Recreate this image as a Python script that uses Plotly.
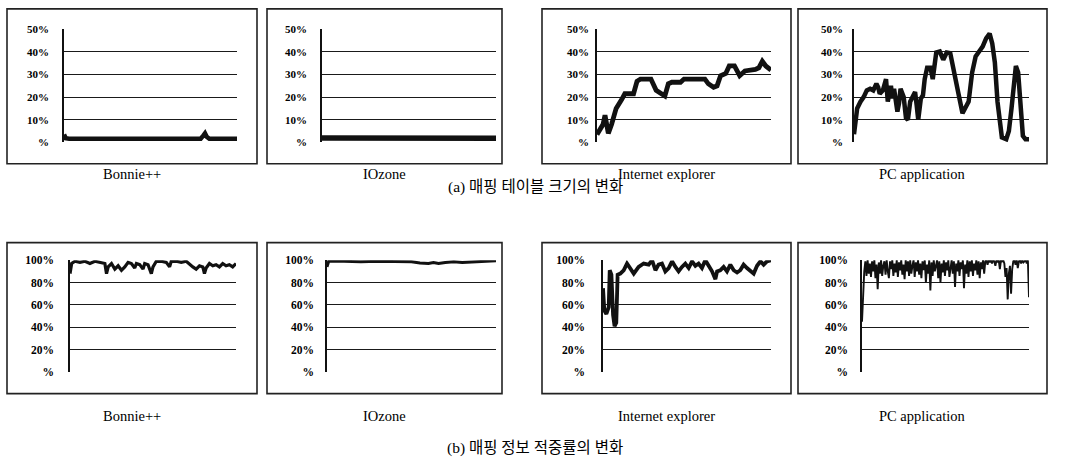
import plotly.graph_objects as go

# ---------------- data ----------------
panel_names = ["Bonnie++", "IOzone", "Internet explorer", "PC application"]
caption_a = "(a) 매핑 테이블 크기의 변화"
caption_b = "(b) 매핑 정보 적중률의 변화"

top_tickvals = [0, 10, 20, 30, 40, 50]
top_ticktext = ["%", "10%", "20%", "30%", "40%", "50%"]
bot_tickvals = [0, 20, 40, 60, 80, 100]
bot_ticktext = ["%", "20%", "40%", "60%", "80%", "100%"]

# (a) mapping table size (%), x = relative time (0-100)
bonnie_size_x = [0, 1, 3, 20, 40, 60, 79, 80.5, 81.5, 82.5, 84, 100]
bonnie_size_y = [3.5, 1.8, 1.6, 1.5, 1.6, 1.5, 1.6, 3.0, 4.0, 2.5, 1.6, 1.6]

iozone_size_x = [0, 25, 50, 75, 100]
iozone_size_y = [1.9, 2.0, 1.8, 1.7, 1.8]

ie_size_x = [0, 3.5, 4.6, 6.5, 8.4, 11, 14, 16, 21, 23, 25, 31, 34, 37, 39, 41, 43, 48,
             50, 62, 64, 67, 69, 71, 74, 76, 79, 82, 85, 91, 93, 95, 97, 100]
ie_size_y = [3.5, 8, 12, 4, 8, 15, 18.7, 21.5, 21.5, 27, 28, 28, 23, 21.5, 20.5, 25.9, 26.6, 26.6,
             28, 28, 25.9, 24.4, 25, 29.5, 30.5, 33.8, 33.8, 29.5, 31.6, 32.3, 33, 35.9, 33.8, 32]

pc_size_x = [0, 0.9, 1.8, 3.7, 5.5, 7.3, 9.2, 11.0, 12.8, 13.8, 14.7, 16.5, 18.3, 19.3, 20.2,
             21.1, 22.0, 22.9, 24.8, 25.7, 26.6, 27.5, 28.4, 29.7, 30.8, 32.1, 33.9, 34.9, 35.8,
             36.7, 38.2, 39.4, 40.4, 41.8, 43.7, 45.0, 47.0, 49.0, 51.0, 53.0, 55.0, 57.0, 59.5,
             62.0, 64.0, 65.5, 67.5, 69.5, 71.5, 73.5, 75.5, 77.5, 79.0, 80.5, 82.0, 83.0, 84.5,
             87.0, 88.5, 90.0, 91.2, 92.5, 93.8, 95.2, 96.5, 98.0, 100]
pc_size_y = [3.6, 10.8, 15, 18, 20, 23, 23.7, 23, 25.9, 24.4, 21.5, 23, 28, 18, 22.3, 25, 19.4,
             23.7, 13.6, 17.2, 23.7, 21.5, 20, 10.8, 10, 18, 20.8, 22.3, 16.5, 10, 19.4, 20.8, 28,
             33, 33, 28, 39.8, 40.2, 36.6, 39.8, 39.5, 30.9, 22.3, 12.9, 15.8, 18, 30.9, 38, 40.2,
             42.4, 46, 48.1, 43.8, 35.2, 18, 10.8, 2.2, 1.4, 5, 15, 25, 33.8, 30.9, 16.5, 2.9, 1.4, 1.4]

# (b) mapping information hit ratio (%)
bonnie_hit_x = [0, 1, 3, 6, 9, 12, 15, 18, 21, 22, 23, 25, 27, 29, 31, 33, 35, 37, 39, 40,
                42, 44, 45, 47, 49, 50, 52, 55, 58, 60, 61, 64, 67, 70, 72, 74, 76, 78, 80, 81,
                82, 84, 86, 88, 90, 92, 94, 96, 98, 100]
bonnie_hit_y = [88, 97, 99, 98, 99, 97, 99, 98, 97, 88, 94, 97, 92, 95, 91, 94, 98, 97, 93, 97,
                96, 92, 97, 96, 88, 94, 99, 99, 98, 94, 99, 99, 98, 99, 96, 94, 92, 95, 94, 88,
                93, 97, 95, 96, 94, 97, 95, 96, 94, 97]

iozone_hit_x = [0, 1, 10, 20, 30, 40, 50, 55, 60, 63, 66, 70, 75, 80, 90, 100]
iozone_hit_y = [94, 99, 99, 98.5, 99, 99, 98.5, 97.5, 97, 98, 97, 98, 98.5, 98, 99, 99.5]

ie_hit_x = [0, 0.8, 2.0, 3.4, 4.0, 5.0, 6.0, 6.9, 7.9, 8.7, 10.3, 12.3, 14.3, 16.3, 18.3, 21.2,
            24.2, 27.2, 29.2, 31.2, 33.1, 35.1, 37.1, 39.1, 41.1, 43.1, 45.0, 47.0, 49.0, 51.0,
            53.0, 55.0, 56.9, 58.9, 60.9, 62.9, 64.9, 66.9, 67.9, 69.8, 71.8, 73.8, 75.8, 77.8,
            79.8, 81.7, 83.7, 85.7, 87.7, 89.7, 91.7, 93.7, 95.6, 97.6, 100]
ie_hit_y = [75, 55, 52, 58, 91, 87, 51, 41, 44, 87, 88, 91, 97, 93, 88, 94, 97, 96, 100, 91,
            96, 97, 90, 93, 99, 94, 90, 94, 97, 93, 99, 95, 97, 93, 100, 95, 90, 83, 90, 91,
            94, 90, 96, 91, 89, 91, 96, 93, 90, 88, 95, 99, 96, 99, 100]

pc_hit_y = [45, 78, 90, 99, 86, 100, 88, 97, 85, 99,
            90, 100, 84, 96, 74, 98, 88, 100, 86, 95,
            99, 87, 100, 90, 84, 99, 92, 100, 86, 97,
            89, 100, 85, 98, 91, 100, 87, 96, 83, 100,
            90, 99, 86, 100, 88, 95, 100, 85, 98, 90,
            100, 87, 97, 84, 99, 91, 100, 80, 96, 88,
            100, 73, 98, 86, 100, 90, 95, 100, 84, 99,
            80, 97, 89, 100, 86, 98, 91, 100, 85, 96,
            100, 88, 99, 76, 97, 90, 100, 86, 98, 92,
            100, 75, 96, 88, 100, 85, 99, 90, 100, 86,
            97, 91, 100, 87, 99, 84, 98, 92, 100, 88,
            99, 100, 96, 100, 98, 100, 97, 100, 99, 95,
            100, 98, 100, 92, 100, 99, 100, 97, 85, 93,
            65, 88, 95, 70, 92, 99, 100, 96, 100, 93,
            99, 100, 97, 100, 98, 99, 100, 97, 100, 67]
pc_hit_x = list(range(len(pc_hit_y)))

# ---------------- layout geometry (pixels) ----------------
W, H = 1069, 459
top_plot_x = [(64, 237), (322, 496), (597, 771), (854, 1029)]
bot_plot_x = [(70, 236), (327, 496), (603, 771), (862, 1029)]
top_plot_y = (24, 140)
bot_plot_y = (261, 376)
box_x = [(7, 257), (267, 502), (542, 791), (798, 1047)]
top_box_y = (3, 162)
bot_box_y = (243, 398)
top_ticklen = [11, 11, 4, 7]
bot_ticklen = [12, 9, 14, 10]
top_label_y = 173
bot_label_y = 421
cap_a_y = 186
cap_b_y = 454

SERIF = "Liberation Serif, Times New Roman, serif"
KFONT = "Liberation Serif, Noto Sans CJK KR, serif"


def px(v):
    return v / W


def py(v):
    return 1 - v / H


top_series = [(bonnie_size_x, bonnie_size_y, 4.5), (iozone_size_x, iozone_size_y, 5.5),
              (ie_size_x, ie_size_y, 4.8), (pc_size_x, pc_size_y, 4.5)]
bot_series = [(bonnie_hit_x, bonnie_hit_y, 3.2), (iozone_hit_x, iozone_hit_y, 3.0),
              (ie_hit_x, ie_hit_y, 3.8), (pc_hit_x, pc_hit_y, 1.9)]

fig = go.Figure()
layout = dict(
    width=W, height=H, margin=dict(l=0, r=0, t=0, b=0),
    paper_bgcolor="white", plot_bgcolor="white", showlegend=False,
    font=dict(family=SERIF, color="black"),
)

shapes = []
annotations = []

for row in range(2):
    series = top_series if row == 0 else bot_series
    plot_x = top_plot_x if row == 0 else bot_plot_x
    ply = top_plot_y if row == 0 else bot_plot_y
    tv = top_tickvals if row == 0 else bot_tickvals
    tt = top_ticktext if row == 0 else bot_ticktext
    tl = top_ticklen if row == 0 else bot_ticklen
    yr = [0, 50] if row == 0 else [0, 100]
    by = top_box_y if row == 0 else bot_box_y
    ly = top_label_y if row == 0 else bot_label_y
    tfs = 11 if row == 0 else 11.5
    for col in range(4):
        k = row * 4 + col + 1
        xs, ys, lw = series[col]
        xa = "x" if k == 1 else f"x{k}"
        ya = "y" if k == 1 else f"y{k}"
        fig.add_trace(go.Scatter(x=xs, y=ys, mode="lines", xaxis=xa, yaxis=ya,
                                 line=dict(color="#111", width=lw), hoverinfo="skip"))
        xk = "xaxis" if k == 1 else f"xaxis{k}"
        yk = "yaxis" if k == 1 else f"yaxis{k}"
        layout[xk] = dict(domain=[px(plot_x[col][0]), px(plot_x[col][1])], anchor=ya,
                          range=[min(xs), max(xs)], showgrid=False, zeroline=False,
                          showticklabels=False, ticks="", showline=False, fixedrange=True)
        layout[yk] = dict(domain=[py(ply[1]), py(ply[0])], anchor=xa, range=yr,
                          tickvals=tv, ticktext=tt, showgrid=True, gridcolor="#1a1a1a",
                          gridwidth=1.1, zeroline=False, showline=True, linecolor="#111",
                          linewidth=1.5, ticks="outside", ticklen=tl[col],
                          tickcolor="rgba(0,0,0,0)",
                          tickfont=dict(family=SERIF, size=tfs, color="black", weight="bold"),
                          fixedrange=True)
        # outer frame
        shapes.append(dict(type="rect", xref="paper", yref="paper",
                           x0=px(box_x[col][0]), x1=px(box_x[col][1]),
                           y0=py(by[1]), y1=py(by[0]),
                           line=dict(color="#222", width=1.6), fillcolor="rgba(0,0,0,0)"))
        annotations.append(dict(text=panel_names[col], xref="paper", yref="paper",
                                x=px((box_x[col][0] + box_x[col][1]) / 2), y=py(ly),
                                xanchor="center", yanchor="middle", showarrow=False,
                                font=dict(family=SERIF, size=14.5, color="black")))

annotations.append(dict(text=caption_a, xref="paper", yref="paper", x=px(535), y=py(cap_a_y),
                        xanchor="center", yanchor="middle", showarrow=False,
                        font=dict(family=KFONT, size=15.5, color="black")))
annotations.append(dict(text=caption_b, xref="paper", yref="paper", x=px(535), y=py(cap_b_y),
                        xanchor="center", yanchor="middle", showarrow=False,
                        font=dict(family=KFONT, size=15.5, color="black")))

layout["shapes"] = shapes
layout["annotations"] = annotations
fig.update_layout(**layout)
fig.write_html("out.html")
